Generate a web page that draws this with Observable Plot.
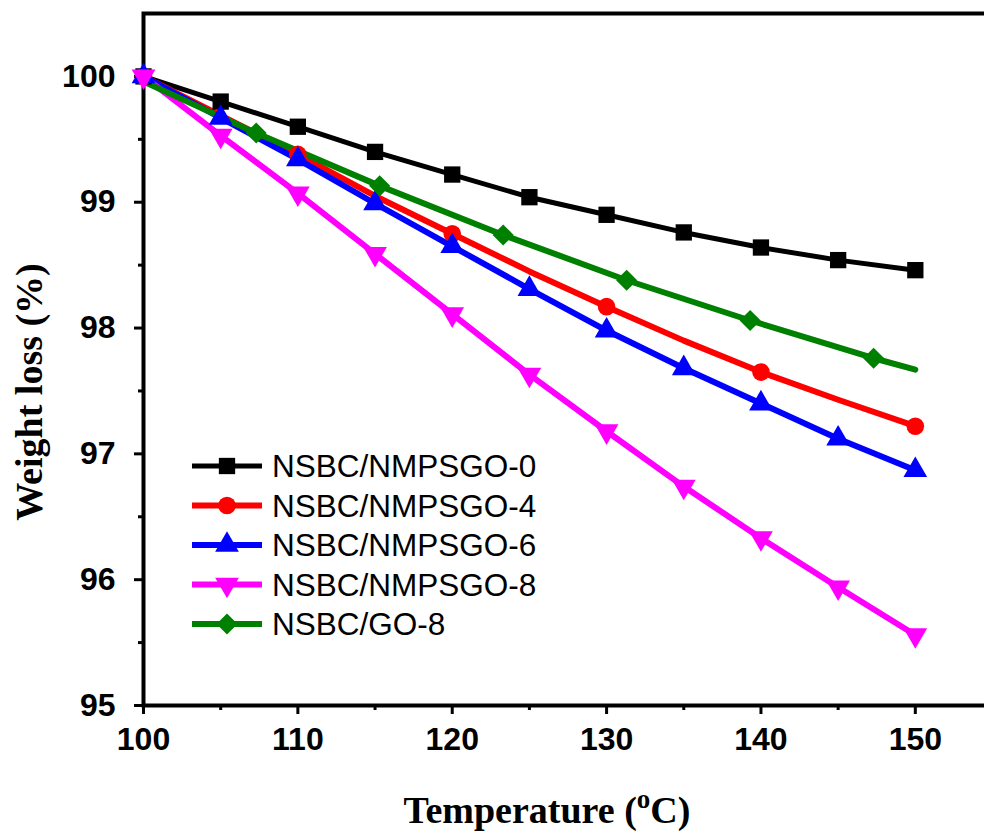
<!DOCTYPE html>
<html>
<head>
<meta charset="utf-8">
<script src="https://cdn.jsdelivr.net/npm/d3@7"></script>
<script src="https://cdn.jsdelivr.net/npm/@observablehq/plot@0.6"></script>
<style>
  html, body { margin: 0; padding: 0; background: #fff; overflow: hidden; }
  #chart svg { display: block; max-width: none; }
  #chart svg g[aria-label$="axis tick label"] text { font-size: 32px; font-weight: bold; font-family: 'Liberation Sans', Arial, sans-serif; }
</style>
</head>
<body>
<div id="chart"></div>
<script>
// ---- data ----
const temps = [100, 105, 110, 115, 120, 125, 130, 135, 140, 145, 150];
const nmpsgo0 = [100.00, 99.80, 99.60, 99.40, 99.22, 99.04, 98.90, 98.76, 98.64, 98.54, 98.46];
const nmpsgo4 = [100.00, 99.69, 99.38, 99.05, 98.75, 98.45, 98.17, 97.90, 97.65, 97.43, 97.22];
const nmpsgo6 = [100.00, 99.67, 99.34, 98.99, 98.65, 98.31, 97.98, 97.68, 97.40, 97.12, 96.87];
const nmpsgo8 = [100.00, 99.53, 99.07, 98.59, 98.11, 97.63, 97.18, 96.74, 96.33, 95.94, 95.56];
const go8Temps = [100, 107.3, 115.3, 123.3, 131.3, 139.3, 147.3, 150];
const go8 = [99.96, 99.55, 99.13, 98.74, 98.38, 98.06, 97.76, 97.67];

const seriesNames = ["NSBC/NMPSGO-0", "NSBC/NMPSGO-4", "NSBC/NMPSGO-6", "NSBC/NMPSGO-8", "NSBC/GO-8"];
const seriesColors = ["#000000", "#ff0000", "#0000ff", "#ff00ff", "#008000"];
const seriesSymbols = ["square", "circle", "triangle", "triangle", "square"];
const seriesRotate = [0, 0, 0, 180, 45];
const seriesR = [9.2, 8.8, 8.8, 8.8, 8.4];
const seriesWidth = [5, 6, 6, 6, 6];

const xMajor = [100, 110, 120, 130, 140, 150];
const xMinor = [105, 115, 125, 135, 145];
const yMajor = [95, 96, 97, 98, 99, 100];
const yMinor = [95.5, 96.5, 97.5, 98.5, 99.5];

// ---- build tables ----
const seriesX = [temps, temps, temps, temps, go8Temps];
const seriesY = [nmpsgo0, nmpsgo4, nmpsgo6, nmpsgo8, go8];
// which points carry a marker
const markerFilter = [
  (t, i) => true,
  (t, i) => t % 10 === 0,
  (t, i) => true,
  (t, i) => true,
  (t, i) => i > 0 && i < go8Temps.length - 1
];

const lineMarks = [];
const dotMarks = [];
seriesNames.forEach((name, k) => {
  const rows = seriesX[k].map((t, i) => ({t, w: seriesY[k][i], i}));
  lineMarks.push(Plot.line(rows, {x: "t", y: "w", stroke: seriesColors[k], strokeWidth: seriesWidth[k], strokeLinejoin: "round"}));
  dotMarks.push(Plot.dot(rows.filter(d => markerFilter[k](d.t, d.i)), {
    x: "t", y: "w", symbol: seriesSymbols[k], r: seriesR[k], rotate: seriesRotate[k],
    fill: seriesColors[k], stroke: "none"
  }));
});

const fmt = d => String(d);
const W = 992, H = 834;
const plot = Plot.plot({
  width: W,
  height: H,
  marginLeft: 143,
  marginRight: 0,
  marginTop: 13,
  marginBottom: 129,
  style: {fontFamily: "'Liberation Sans', Arial, sans-serif", fontSize: "32px", color: "#000", background: "#fff"},
  x: {domain: [100, 155], label: null},
  y: {domain: [95, 100.5], label: null},
  marks: [
    Plot.axisX(xMinor, {tickSize: 5, strokeWidth: 3, tickFormat: () => "", label: null}),
    Plot.axisX(xMajor, {tickSize: 9, tickPadding: 13, strokeWidth: 3, label: null, tickFormat: fmt}),
    Plot.axisY(yMinor, {tickSize: 5, strokeWidth: 3, tickFormat: () => "", label: null}),
    Plot.axisY(yMajor, {tickSize: 9, tickPadding: 19, strokeWidth: 3, label: null, tickFormat: fmt}),
    Plot.frame({strokeWidth: 4}),
    ...lineMarks,
    ...dotMarks
  ]
});
document.getElementById("chart").appendChild(plot);

const svg = d3.select(plot);

// axis titles
const serif = "'Liberation Serif', 'Times New Roman', serif";
const xt = svg.append("text")
  .attr("x", 547).attr("y", 823)
  .attr("text-anchor", "middle")
  .style("font-family", serif).style("font-size", "38px").style("font-weight", "bold");
xt.append("tspan").text("Temperature (");
xt.append("tspan").attr("dy", -15).style("font-size", "27px").text("o");
xt.append("tspan").attr("dy", 15).text("C)");

svg.append("text")
  .attr("transform", "translate(42,392) rotate(-90)")
  .attr("text-anchor", "middle")
  .style("font-family", serif).style("font-size", "38px").style("font-weight", "bold")
  .text("Weight loss (%)");

// legend
const lg = svg.append("g").attr("text-anchor", "start");
seriesNames.forEach((name, k) => {
  const yy = 466 + k * 39.5;
  lg.append("line").attr("x1", 192).attr("x2", 262).attr("y1", yy).attr("y2", yy)
    .attr("stroke", seriesColors[k]).attr("stroke-width", seriesWidth[k]);
  const sym = {square: d3.symbolSquare, circle: d3.symbolCircle, triangle: d3.symbolTriangle}[seriesSymbols[k]];
  lg.append("path").attr("d", d3.symbol(sym, seriesR[k] * seriesR[k] * Math.PI)())
    .attr("transform", `translate(227,${yy}) rotate(${seriesRotate[k]})`)
    .attr("fill", seriesColors[k]);
  lg.append("text").attr("x", 272).attr("y", yy).attr("dy", "0.36em")
    .attr("text-anchor", "start")
    .style("font-family", "'Liberation Sans', Arial, sans-serif").style("font-size", "31.5px").style("font-weight", "normal")
    .text(name);
});
</script>
</body>
</html>
